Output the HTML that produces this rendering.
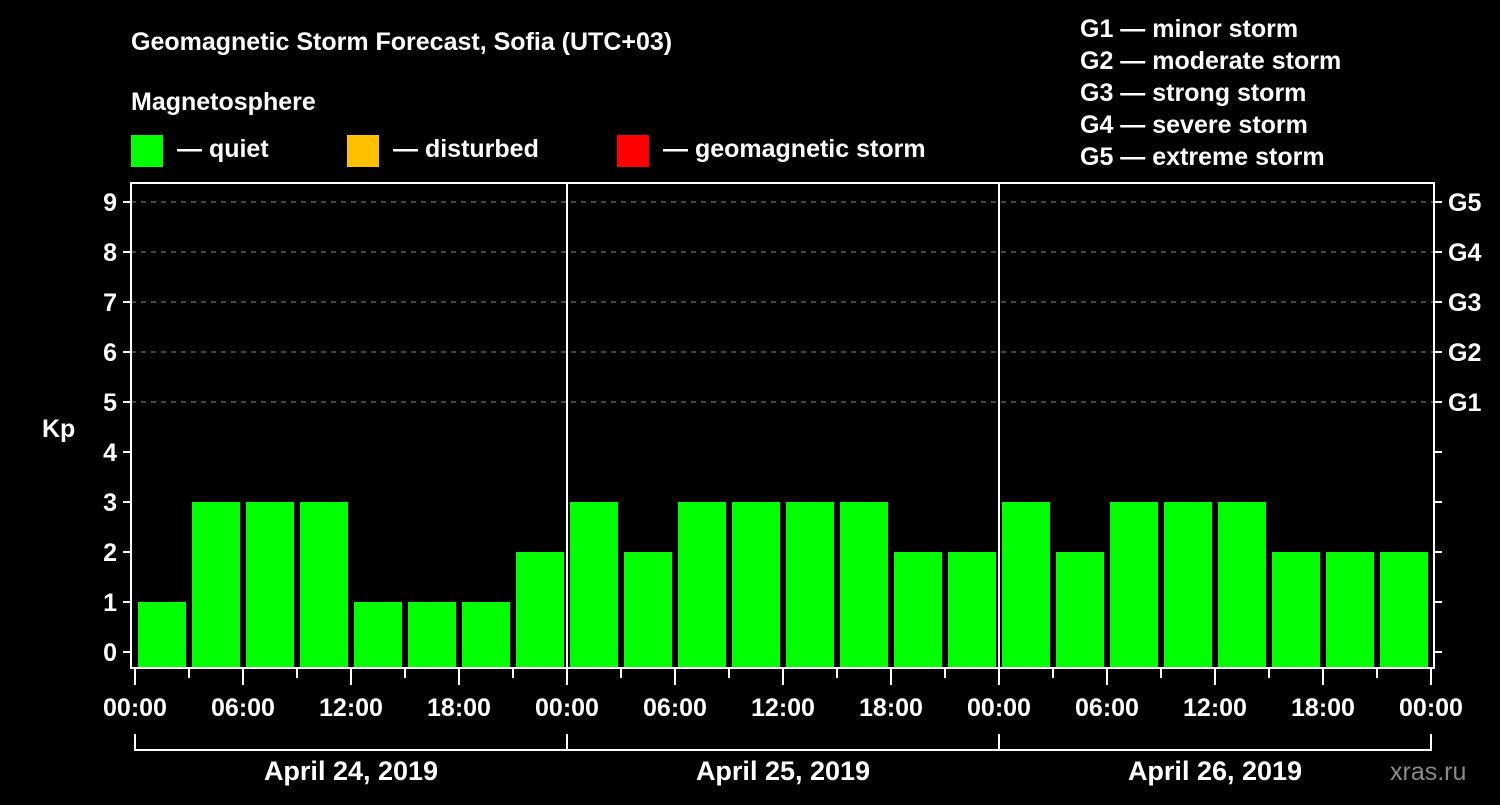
<!DOCTYPE html>
<html><head><meta charset="utf-8"><style>
body{margin:0;background:#000;width:1500px;height:800px;overflow:hidden}
svg text{font-family:"Liberation Sans",sans-serif;font-weight:bold;fill:#fff}
</style></head><body>
<svg id="chart" width="1500" height="800" xmlns="http://www.w3.org/2000/svg">
<text x="131" y="50" font-size="25">Geomagnetic Storm Forecast, Sofia (UTC+03)</text>
<text x="131" y="110" font-size="25">Magnetosphere</text>
<rect x="131" y="135" width="32" height="32" fill="#00ff00"/>
<text x="177" y="157" font-size="25">— quiet</text>
<rect x="347" y="135" width="32" height="32" fill="#ffc000"/>
<text x="393" y="157" font-size="25">— disturbed</text>
<rect x="617" y="135" width="32" height="32" fill="#ff0000"/>
<text x="663" y="157" font-size="25">— geomagnetic storm</text>
<g font-size="25">
<text x="1080" y="37">G1 — minor storm</text>
<text x="1080" y="69">G2 — moderate storm</text>
<text x="1080" y="101">G3 — strong storm</text>
<text x="1080" y="133">G4 — severe storm</text>
<text x="1080" y="165">G5 — extreme storm</text>
</g>
<text x="42" y="437" font-size="25">Kp</text>
<text x="1390" y="780" font-size="25" fill="#888" style="fill:#8a8a8a;font-weight:normal">xras.ru</text>
<g id="plot"></g>
</svg>
<script>
const kpValues=[1,3,3,3,1,1,1,2, 3,2,3,3,3,3,2,2, 3,2,3,3,3,2,2,2];
const yTicks=[0,1,2,3,4,5,6,7,8,9];
const gLabels=["G1","G2","G3","G4","G5"];
const xTickLabels=["00:00","06:00","12:00","18:00","00:00","06:00","12:00","18:00","00:00","06:00","12:00","18:00","00:00"];
const dayLabels=["April 24, 2019","April 25, 2019","April 26, 2019"];
const NS="http://www.w3.org/2000/svg";
const g=document.getElementById('plot');
const X0=135,HOUR=18,L=131,R=1434,T=183,B=668;
const y=v=>652-50*v;
const x=h=>X0+h*HOUR;
function mk(tag,attrs,parent){const e=document.createElementNS(NS,tag);for(const k in attrs)e.setAttribute(k,attrs[k]);(parent||g).appendChild(e);return e;}
function color(v){return v>=5?'#ff0000':v>=4?'#ffc000':'#00ff00';}
// grid
yTicks.forEach(v=>{
  if(v>=5){const l=mk('line',{x1:L,x2:R,y1:y(v),y2:y(v),stroke:'#888','stroke-dasharray':'5,5','stroke-width':1});
  
  }
  const t=mk('line',{x1:L-8,x2:L,y1:y(v),y2:y(v),stroke:'#fff','stroke-width':2});
  
  
  const t2=mk('line',{x1:R,x2:R+8,y1:y(v),y2:y(v),stroke:'#fff','stroke-width':2});
  
  
  const lb=mk('text',{x:L-14,y:y(v)+9,'font-size':25,'text-anchor':'end'});lb.textContent=v;
  
  
});
gLabels.forEach((s,i)=>{const lb=mk('text',{x:R+14,y:y(5+i)+9,'font-size':25});lb.textContent=s;
  
  });
// bars
kpValues.forEach((v,i)=>{
  const r=mk('rect',{x:x(i*3)+3,width:48,y:y(v),height:B-y(v),fill:color(v)});
  
  
});
// day separators
for(let d=1;d<3;d++){const l=mk('line',{x1:x(d*24),x2:x(d*24),y1:T,y2:B,stroke:'#fff','stroke-width':2});
  
  }
// frame
const f=mk('rect',{x:L,y:T,width:R-L,height:B-T,fill:'none',stroke:'#fff','stroke-width':2});


// x ticks
for(let h=0;h<=72;h+=3){const major=h%6===0;
  const t=mk('line',{x1:x(h),x2:x(h),y1:B,y2:B+(major?17:10),stroke:'#fff','stroke-width':2});
  
  }
xTickLabels.forEach((s,i)=>{const lb=mk('text',{x:x(i*6),y:716,'font-size':25,'text-anchor':'middle'});lb.textContent=s;
  
  });
dayLabels.forEach((s,d)=>{
  const p=mk('path',{d:`M${x(d*24)},734V750H${x(d*24+24)}V734`,fill:'none',stroke:'#fff','stroke-width':2});
  
  
  const lb=mk('text',{x:x(d*24+12),y:780,'font-size':27,'text-anchor':'middle'});lb.textContent=s;
  
  
});
</script>
</body></html>
